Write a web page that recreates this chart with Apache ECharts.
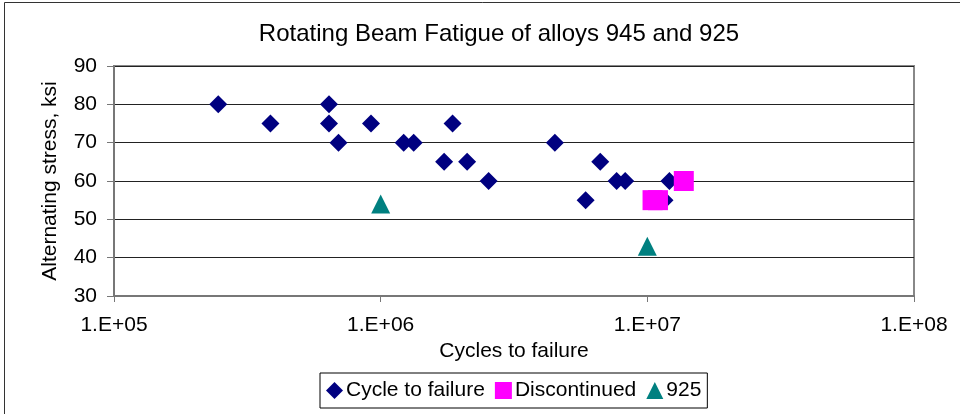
<!DOCTYPE html>
<html>
<head>
<meta charset="utf-8">
<script src="https://cdn.jsdelivr.net/npm/echarts@6/dist/echarts.min.js"></script>
<style>
  html, body { margin: 0; padding: 0; background: #fff; }
  #chart { width: 960px; height: 414px; }
</style>
</head>
<body>
<div id="chart"></div>
<script>
// cycles to failure / alternating stress (ksi)
const failCycles = [2.46e5, 3.86e5, 6.4e5, 6.4e5, 6.95e5, 9.2e5, 1.22e6, 1.33e6, 1.86e6, 1.73e6,
                    2.11e6, 2.54e6, 4.5e6, 6.66e6, 5.87e6, 7.67e6, 8.26e6, 1.21e7, 1.16e7];
const failStress = [80, 75, 80, 75, 70, 75, 70, 70, 75, 65,
                    65, 60, 70, 65, 55, 60, 60, 60, 55];
const discCycles = [1.046e7, 1.096e7, 1.37e7];
const discStress = [55, 55, 60];
const alloy925Cycles = [1.0e6, 1.0e7];
const alloy925Stress = [54, 43];

const pairs = (xs, ys) => xs.map((x, i) => [x, ys[i]]);
const font = 'Liberation Sans, Arial, sans-serif';

const chart = echarts.init(document.getElementById('chart'));
chart.setOption({
  backgroundColor: '#fff',
  animation: false,
  title: {
    text: 'Rotating Beam Fatigue of alloys 945 and 925',
    left: 494, textAlign: 'center', top: 17,
    textStyle: { fontFamily: font, fontSize: 24, fontWeight: 'normal', color: '#000' }
  },
  graphic: [{
    type: 'rect', silent: true, z: -1,
    shape: { x: 4.5, y: 2.5, width: 1200, height: 1200 },
    style: { fill: null, stroke: '#333', lineWidth: 1 }
  }],
  grid: {
    left: 114, right: 46, top: 66, bottom: 118,
    show: true, borderColor: '#888', borderWidth: 2, backgroundColor: '#fff'
  },
  legend: {
    left: 320, top: 373,
    padding: [7, 6, 7, 6],
    itemGap: 10, itemWidth: 17, itemHeight: 17,
    borderColor: '#000', borderWidth: 1,
    textStyle: { fontFamily: font, fontSize: 21, color: '#000', padding: [0, 0, 0, -2] },
    data: [
      { name: 'Cycle to failure', icon: 'diamond' },
      { name: 'Discontinued', icon: 'rect' },
      { name: '925', icon: 'triangle' }
    ]
  },
  xAxis: {
    type: 'log', logBase: 10, min: 1e5, max: 1e8,
    name: 'Cycles to failure', nameLocation: 'middle', nameGap: 40,
    nameTextStyle: { fontFamily: font, fontSize: 21, color: '#000' },
    axisLine: { lineStyle: { color: '#777', width: 2 } },
    axisTick: { show: true, inside: false, length: 6, lineStyle: { color: '#777' } },
    axisLabel: {
      fontFamily: font, fontSize: 21, color: '#000', margin: 19,
      formatter: v => '1.E+' + String(Math.round(Math.log10(v))).padStart(2, '0')
    },
    splitLine: { show: false },
    minorTick: { show: false }
  },
  yAxis: {
    type: 'value', min: 30, max: 90, interval: 10,
    name: 'Alternating stress, ksi', nameLocation: 'middle', nameGap: 53,
    nameTextStyle: { fontFamily: font, fontSize: 21, color: '#000' },
    axisLine: { show: true, lineStyle: { color: '#777', width: 2 } },
    axisTick: { show: true, length: 7, lineStyle: { color: '#777' } },
    axisLabel: { fontFamily: font, fontSize: 21, color: '#000', margin: 17 },
    splitLine: { show: true, lineStyle: { color: '#222', width: 1 } }
  },
  series: [
    {
      name: 'Cycle to failure', type: 'scatter', symbol: 'diamond', symbolSize: 18,
      itemStyle: { color: '#000080', opacity: 1 }, data: pairs(failCycles, failStress)
    },
    {
      name: 'Discontinued', type: 'scatter', symbol: 'rect', symbolSize: 20,
      itemStyle: { color: '#FF00FF', opacity: 1 }, data: pairs(discCycles, discStress)
    },
    {
      name: '925', type: 'scatter', symbol: 'triangle', symbolSize: 19,
      itemStyle: { color: '#008080', opacity: 1 }, data: pairs(alloy925Cycles, alloy925Stress)
    }
  ]
});
</script>
</body>
</html>
